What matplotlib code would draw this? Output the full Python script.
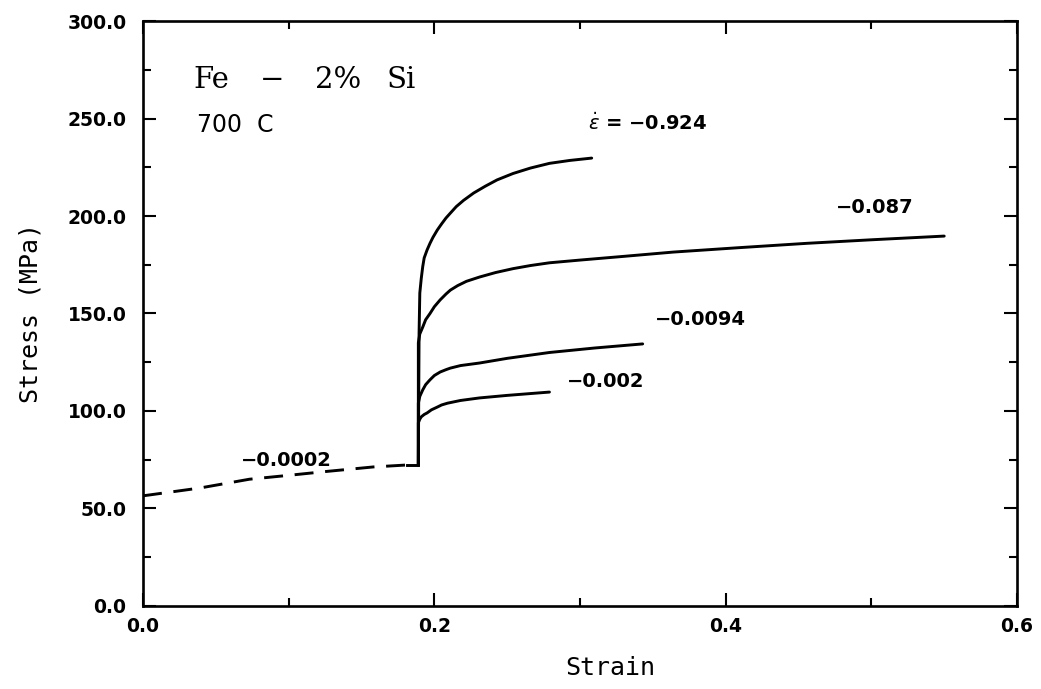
import matplotlib
matplotlib.use("Agg")
import matplotlib.pyplot as plt
from matplotlib.ticker import MultipleLocator, FormatStrFormatter

# ── Data ──────────────────────────────────────────────────────────────────────

# slow pre-strain (dashed), ends at the jump
pre_strain = [0.000, 0.005, 0.039, 0.073, 0.100, 0.126, 0.158, 0.181, 0.189]
pre_stress = [56.5, 57.0, 60.5, 65.0, 67.0, 69.0, 71.3, 72.3, 72.3]

r0924_strain = [0.189, 0.1895, 0.190, 0.191, 0.192, 0.193, 0.195, 0.197, 0.199, 0.202, 0.205,
                0.208, 0.211, 0.215, 0.220, 0.227, 0.235, 0.243, 0.254, 0.266, 0.279, 0.293, 0.308]
r0924_stress = [72.3, 140.0, 160.5, 168.0, 174.0, 178.5, 182.6, 186.0, 189.0, 192.8, 196.0,
                199.0, 201.5, 204.8, 208.0, 211.8, 215.3, 218.5, 221.8, 224.6, 227.0, 228.5, 229.7]

r087_strain = [0.189, 0.189, 0.190, 0.192, 0.194, 0.197, 0.200, 0.204, 0.208, 0.211, 0.216,
               0.222, 0.231, 0.242, 0.254, 0.266, 0.279, 0.300, 0.330, 0.364, 0.410, 0.456, 0.500, 0.550]
r087_stress = [72.3, 135.0, 139.5, 143.0, 146.8, 150.0, 153.5, 157.0, 160.0, 162.0, 164.3,
               166.5, 168.7, 171.0, 173.0, 174.6, 176.0, 177.4, 179.3, 181.5, 183.8, 186.0, 187.8, 189.7]

r0094_strain = [0.189, 0.189, 0.190, 0.192, 0.194, 0.197, 0.200, 0.204, 0.208, 0.211, 0.218,
                0.231, 0.250, 0.279, 0.310, 0.343]
r0094_stress = [72.3, 104.0, 107.5, 110.8, 113.5, 116.0, 118.2, 120.0, 121.2, 122.0, 123.3,
                124.6, 127.0, 130.0, 132.3, 134.4]

r002_strain = [0.189, 0.189, 0.190, 0.191, 0.193, 0.195, 0.198, 0.202, 0.205, 0.209, 0.218,
               0.231, 0.250, 0.279]
r002_stress = [72.3, 94.0, 95.8, 97.0, 98.2, 99.0, 100.6, 102.0, 103.1, 104.0, 105.4,
               106.7, 108.0, 109.7]

rate_labels = ["$\\dot{\\epsilon}$ = \u22120.924", "\u22120.087", "\u22120.0094", "\u22120.002", "\u22120.0002"]
label_x     = [0.3054, 0.4757, 0.3514, 0.2910, 0.0673]
label_y     = [247.7, 204.6, 146.7, 114.9, 74.4]

# title pieces "Fe - 2% Si", spaced wide like the original plotter lettering
title_parts = ["Fe", "\u2212", "2%", "Si"]
title_x     = [0.0343, 0.0800, 0.1181, 0.1674]

# ── Plot ──────────────────────────────────────────────────────────────────────

fig = plt.figure(figsize=(10.41, 6.89), dpi=100)
ax = fig.add_axes([0.1374, 0.1205, 0.977 - 0.1374, 0.9695 - 0.1205])

lw = 2.1
ax.plot(pre_strain[:-1], pre_stress[:-1], color="black", lw=lw, dashes=(6.5, 4))
ax.plot(pre_strain[-2:], pre_stress[-2:], color="black", lw=lw)
for xs, ys in [(r0924_strain, r0924_stress), (r087_strain, r087_stress),
               (r0094_strain, r0094_stress), (r002_strain, r002_stress)]:
    ax.plot(xs, ys, color="black", lw=lw, solid_capstyle="round", solid_joinstyle="round")

ax.set_xlim(0, 0.6)
ax.set_ylim(0, 300)
ax.xaxis.set_major_locator(MultipleLocator(0.2))
ax.xaxis.set_minor_locator(MultipleLocator(0.1))
ax.yaxis.set_major_locator(MultipleLocator(50))
ax.yaxis.set_minor_locator(MultipleLocator(25))
ax.xaxis.set_major_formatter(FormatStrFormatter("%.1f"))
ax.yaxis.set_major_formatter(FormatStrFormatter("%.1f"))

ax.tick_params(which="both", direction="in", top=True, right=True, width=1.5, labelsize=13.5)
ax.tick_params(which="major", length=9.5)
ax.tick_params(axis="y", which="major", pad=12)
ax.tick_params(axis="x", which="major", pad=8)
ax.tick_params(which="minor", length=6)
for sp in ax.spines.values():
    sp.set_linewidth(1.9)

ax.set_xlabel("Strain", family="DejaVu Sans Mono", fontsize=18, labelpad=14)
ax.xaxis.label.set_x(0.534)
ax.set_ylabel("Stress (MPa)", family="DejaVu Sans Mono", fontsize=18, labelpad=18)

for part, tx in zip(title_parts, title_x):
    ax.text(tx, 265.6, part, family="DejaVu Serif", fontsize=21, va="baseline")
ax.text(0.037, 243.0, "700  C", family="DejaVu Sans", fontsize=17, va="baseline")

for txt, lx, ly in zip(rate_labels, label_x, label_y):
    ax.text(lx, ly, txt, fontsize=14, fontweight="bold", va="center", ha="left")

fig.canvas.draw()
for lab in ax.get_xticklabels() + ax.get_yticklabels():
    lab.set_fontweight("bold")

fig.savefig("out.png", dpi=100)
